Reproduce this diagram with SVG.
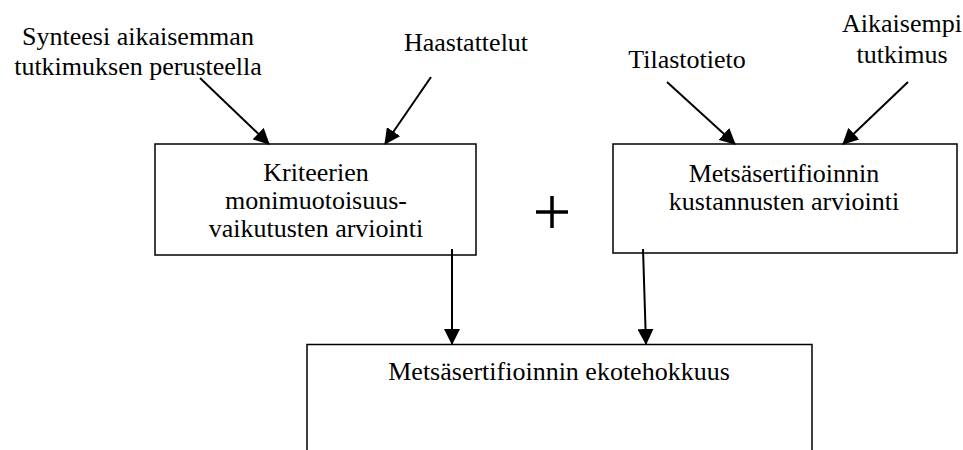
<svg xmlns="http://www.w3.org/2000/svg" width="963" height="450" viewBox="0 0 963 450">
<style>
.box{fill:#fff;stroke:#000;stroke-width:1.5}
.conn{stroke:#000;stroke-width:2;fill:none;marker-end:url(#ah)}
</style>
<defs>
<marker id="ah" markerUnits="userSpaceOnUse" markerWidth="16" markerHeight="16" viewBox="0 0 16 16" refX="15" refY="8" orient="auto">
<path d="M0,0 L16,8 L0,16 Z" fill="#000"/>
</marker>
</defs>
<rect width="963" height="450" fill="#fff"/>
<g font-family="'Liberation Serif', 'DejaVu Serif', 'Times New Roman', serif" font-size="26" text-anchor="middle" fill="#000">
<g id="src-synteesi">
<text x="138" y="45">Synteesi aikaisemman</text>
<text x="138" y="75">tutkimuksen perusteella</text>
</g>
<g id="src-haastattelut">
<text x="466" y="51">Haastattelut</text>
</g>
<g id="src-tilastotieto">
<text x="687" y="68">Tilastotieto</text>
</g>
<g id="src-aikaisempi">
<text x="902" y="32">Aikaisempi</text>
<text x="902" y="63">tutkimus</text>
</g>
<g id="node-kriteerien">
<rect class="box" x="155" y="144" width="321" height="111"/>
<text x="316" y="181">Kriteerien</text>
<text x="316" y="209">monimuotoisuus-</text>
<text x="316" y="237">vaikutusten arviointi</text>
</g>
<g id="node-kustannukset">
<rect class="box" x="613" y="144" width="344" height="109"/>
<text x="784" y="182">Metsäsertifioinnin</text>
<text x="784" y="210">kustannusten arviointi</text>
</g>
<g id="node-ekotehokkuus">
<path class="box" d="M307,452 V344.5 H812 V452"/>
<text x="559" y="380">Metsäsertifioinnin ekotehokkuus</text>
</g>
</g>
<g id="plus">
<path d="M536,212 H568 M552,196 V228" stroke="#000" stroke-width="3.5" fill="none"/>
</g>
<g id="connectors">
<line class="conn" x1="200" y1="78" x2="269" y2="144"/>
<line class="conn" x1="431" y1="77" x2="385" y2="144"/>
<line class="conn" x1="667" y1="82" x2="735" y2="144"/>
<line class="conn" x1="908" y1="82" x2="843" y2="144"/>
<line class="conn" x1="452" y1="249" x2="452" y2="344"/>
<line class="conn" x1="643" y1="249" x2="646" y2="344"/>
</g>
</svg>
